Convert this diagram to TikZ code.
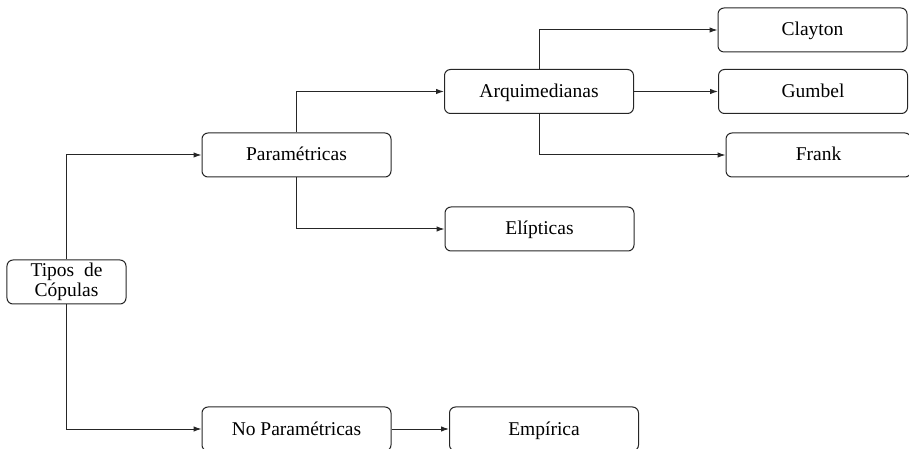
\documentclass[tikz,border=0pt]{standalone}
\usepackage{fontspec}
\setmainfont{Liberation Serif}
\usetikzlibrary{positioning, arrows.meta}

\begin{document}
\begin{tikzpicture}[node distance=240pt, on grid, >={Latex[length=8pt,width=5.5pt]},
    box/.style={draw=black!85, line width=1pt, rounded corners=6pt, minimum width=189pt,
      minimum height=44pt, inner sep=0pt, align=center, text height=15pt, text depth=3pt,
      font=\fontsize{19.5}{20}\selectfont},
    link/.style={->, draw=black!85, line width=1pt}]
  \useasboundingbox (-66.5pt,282pt) rectangle (842.5pt,-167pt);
  \node[box, minimum width=119pt, text height=, text depth=] (tipos) {Tipos\ \ de\\Cópulas};
  \node[box] (param) [above right=127pt and 230pt of tipos] {Paramétricas};
  \node[box] (noparam) [below right=147pt and 230pt of tipos] {No Paramétricas};
  \node[box] (arq) [above right=63.5pt and 242.5pt of param] {Arquimedianas};
  \node[box] (elip) [below right=74pt and 243pt of param] {Elípticas};
  \node[box] (clayton) [above right=61.5pt and 273.5pt of arq] {Clayton};
  \node[box] (gumbel) [right=274pt of arq] {Gumbel};
  \node[box, minimum width=185pt] (frank) [below right=63.5pt and 279.5pt of arq] {Frank};
  \node[box] (empirica) [right=247.5pt of noparam] {Empírica};
  \draw[link] (tipos.north) |- (param);
  \draw[link] (tipos.south) |- (noparam);
  \draw[link] (param.north) |- (arq);
  \draw[link] (param.south) |- (elip);
  \draw[link] (arq.north) |- (clayton);
  \draw[link] (arq) -- (gumbel);
  \draw[link] (arq.south) |- (frank);
  \draw[link] (noparam) -- (empirica);
\end{tikzpicture}
\end{document}
